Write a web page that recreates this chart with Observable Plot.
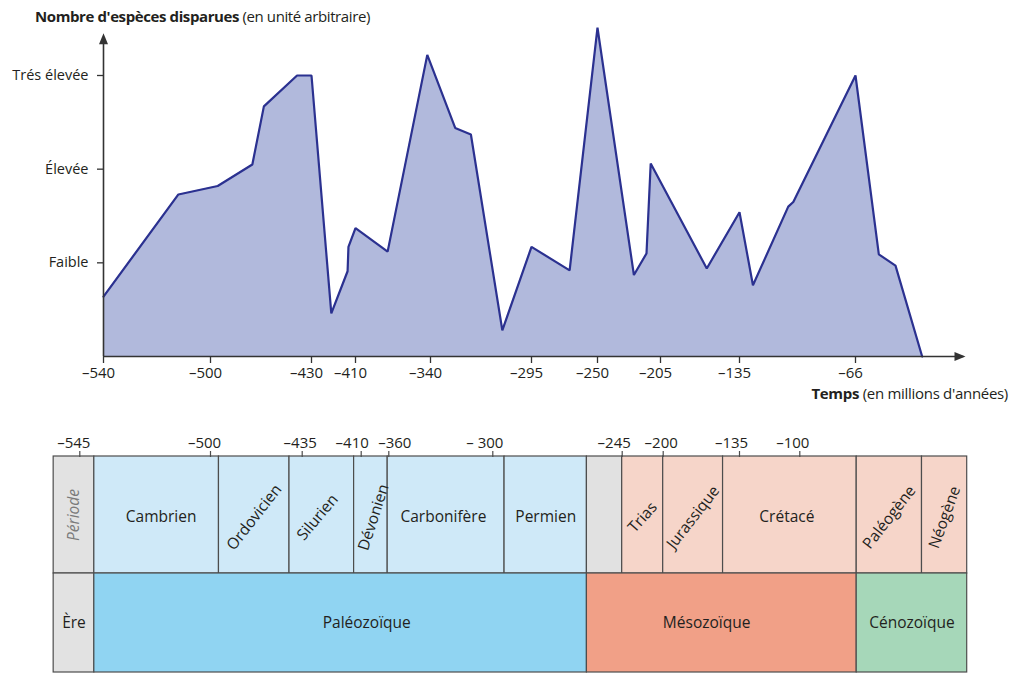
<!DOCTYPE html>
<html><head><meta charset="utf-8">
<script src="https://cdn.jsdelivr.net/npm/d3@7"></script>
<script src="https://cdn.jsdelivr.net/npm/@observablehq/plot@0.6"></script>
<style>
body{margin:0;background:#fff;font-family:"Open Sans",sans-serif;color:#231f20;width:1027px;overflow:hidden}
#title{height:30px;box-sizing:border-box;padding:6px 0 0 35px;font-size:15px;line-height:20px;white-space:nowrap;letter-spacing:-0.4px}
#title b{font-weight:700}
svg{display:block}
</style></head><body>
<div id="title"><b>Nombre d'espèces disparues</b> (en unité arbitraire)</div>
<div id="top"></div>
<div id="bottom"></div>
<script>
// ---------- Top chart data ----------
const ages = [-540,-512,-495,-471,-463,-440,-430,-421,-413.6,-413.2,-410,-380,-343,-329,-322,-308,-295,-269,-250,-224,-215,-212,-164,-135,-127,-106,-103,-66,-52,-42,-26];
const extinction = [0.64,1.73,1.82,2.05,2.67,3.0,3.0,0.46,0.91,1.17,1.37,1.12,3.22,2.44,2.37,0.28,1.17,0.92,3.51,0.87,1.10,2.06,0.94,1.54,0.76,1.60,1.65,3.0,1.09,0.97,0];
const timeTicks = [-540,-500,-430,-410,-340,-295,-250,-205,-135,-66];
const timeTickLabels = ["–540","–500","–430","–410","–340","–295","–250","–205","–135","–66"];
const levelTicks = [1,2,3];
const levelLabels = ["Faible","Élevée","Trés élevée"];

// ---------- Bottom timeline data ----------
const scaleTicks = [-545,-500,-435,-410,-360,-300,-245,-200,-135,-100];
const scaleTickLabels = ["–545","–500","–435","–410","–360","– 300","–245","–200","–135","–100"];
const periods = ["Cambrien","Ordovicien","Silurien","Dévonien","Carbonifère","Permien","","Trias","Jurassique","Crétacé","Paléogène","Néogène"];
const periodStart = [-540,-494,-444,-413,-362,-295,-260,-245,-200,-149,-66,-27];
const periodEnd   = [-494,-444,-413,-362,-295,-260,-245,-200,-149,-66,-27,0];
const periodEra   = ["P","P","P","P","P","P","gap","M","M","M","C","C"];
const eras = ["Paléozoïque","Mésozoïque","Cénozoïque"];
const eraStart = [-540,-260,-66];
const eraEnd = [-260,-66,0];
const rowLabels = ["Période","Ère"];
const labelColumn = [-554,-540];

// ---------- styles ----------
const FONT = "Open Sans, sans-serif";
const INK = "#231f20";
const periodFill = {P:"#cfe9f8", gap:"#e1e1e1", M:"#f6d5c9", C:"#f6d5c9"};
const eraFill = {"Paléozoïque":"#90d4f2","Mésozoïque":"#f1a087","Cénozoïque":"#a6d7b9"};
const labelRotate = {"Ordovicien":-52,"Silurien":-50,"Dévonien":-72,"Trias":-48,"Jurassique":-52,"Paléogène":-52,"Néogène":-70};
// horizontal nudges of the timeline tick labels (pixels), as in the reference layout
const bottomLabelShift = [-6,-6,-2,-9,6,-8,-8,-2,-8,-7];

const arrowHead = {draw(ctx){ ctx.moveTo(0,0); ctx.lineTo(-4.5,11); ctx.lineTo(4.5,11); ctx.closePath(); }};

const topData = ages.map((a,i)=>({age:a, level:extinction[i]}));

const topChart = Plot.plot({
  width:1027, height:380,
  marginLeft:103, marginRight:0, marginTop:0, marginBottom:54,
  style:{fontFamily:FONT, color:INK, background:"transparent", overflow:"visible"},
  x:{type:"linear", domain:[...timeTicks, 0], range:[103,210,311,355,430,531,597,660,739,855,965]},
  y:{type:"linear", domain:[0,3], range:[326,45]},
  marks:[
    Plot.areaY(topData,{x:"age", y:"level", fill:"#b1b9dc", curve:"linear"}),
    Plot.lineY(topData,{x:"age", y:"level", stroke:"#2b3190", strokeWidth:2.2, strokeLinejoin:"miter", curve:"linear"}),
    Plot.ruleY([0],{x1:timeTicks[0], x2:-1, stroke:"#333", strokeWidth:1.6}),
    Plot.ruleX([timeTicks[0]],{y1:0, y2:3.36, stroke:"#333", strokeWidth:1.6}),
    Plot.dot([0],{x:d=>d, y:0, symbol:arrowHead, rotate:90, fill:"#333", stroke:null}),
    Plot.dot([timeTicks[0]],{x:d=>d, y:3.45, symbol:arrowHead, fill:"#333", stroke:null}),
    Plot.axisX({ticks:timeTicks, tickFormat:d=>timeTickLabels[timeTicks.indexOf(d)], label:null, tickSize:7, tickPadding:4, fontSize:15, strokeWidth:1.3, stroke:"#333", fill:INK}),
    Plot.axisY({ticks:levelTicks, tickFormat:d=>levelLabels[levelTicks.indexOf(d)], label:null, tickSize:6, tickPadding:9, fontSize:14.5, strokeWidth:1.3, stroke:"#333", fill:INK})
  ]
});
const ts = d3.select(topChart);
// the minus sign hangs to the left: centre the digits on the tick
ts.selectAll('g[aria-label="x-axis tick label"] text').attr("dx", -5);
const xl = ts.append("text").attr("x",1008).attr("y",369).attr("text-anchor","end")
  .attr("font-family",FONT).attr("font-size",15).attr("fill",INK).attr("letter-spacing","-0.3");
xl.append("tspan").attr("font-weight",700).text("Temps");
xl.append("tspan").text(" (en millions d'années)");
document.getElementById("top").append(topChart);

// ---------- bottom ----------
const periodData = periods.map((p,i)=>({name:p, x1:periodStart[i], x2:periodEnd[i], fill:periodFill[periodEra[i]]}));
const eraData = eras.map((e,i)=>({name:e, x1:eraStart[i], x2:eraEnd[i]}));

const bottomChart = Plot.plot({
  width:1027, height:264,
  marginLeft:54, marginRight:60, marginTop:46, marginBottom:2,
  style:{fontFamily:FONT, color:INK, background:"transparent", overflow:"visible"},
  x:{type:"linear", domain:[...scaleTicks, 0], range:[79.3,210,301.7,360.7,388.3,492.3,621.7,662.7,739,799.3,966.7]},
  y:{type:"linear", axis:null, domain:[0,1,2], range:[46,163,262]},
  marks:[
    Plot.rect(rowLabels,{x1:labelColumn[0], x2:labelColumn[1], y1:(d,i)=>i, y2:(d,i)=>i+1, fill:"#e2e2e2", stroke:"#4d4d4d", strokeWidth:1.2}),
    Plot.rect(periodData,{x1:"x1", x2:"x2", y1:0, y2:1, fill:"fill", stroke:"#4d4d4d", strokeWidth:1.2}),
    Plot.rect(eraData,{x1:"x1", x2:"x2", y1:1, y2:2, fill:d=>eraFill[d.name], stroke:"#4d4d4d", strokeWidth:1.2}),
    Plot.text(rowLabels,{x:(labelColumn[0]+labelColumn[1])/2, y:(d,i)=>i+0.5, text:d=>d, rotate:(d,i)=>i===0?-90:0,
      fill:(d,i)=>i===0?"#7a7a7a":INK, fontSize:15.5}),
    Plot.text(periodData.filter(d=>d.name),{x:d=>(d.x1+d.x2)/2, y:0.52, text:"name", rotate:d=>labelRotate[d.name]||0, fill:INK, fontSize:15.5}),
    Plot.text(eraData,{x:d=>(d.x1+d.x2)/2, y:1.5, text:"name", fill:INK, fontSize:15.5}),
    Plot.axisX({anchor:"top", ticks:scaleTicks, tickFormat:d=>scaleTickLabels[scaleTicks.indexOf(d)], label:null, tickSize:6, tickPadding:3, fontSize:15, strokeWidth:1.2, stroke:"#4d4d4d", fill:INK})
  ]
});
const bs = d3.select(bottomChart);
bs.selectAll('g[aria-label="x-axis tick label"] text').each(function(){
  const i = scaleTickLabels.indexOf(this.textContent);
  if (i >= 0) d3.select(this).attr("dx", bottomLabelShift[i]);
});
bs.selectAll("text").filter(function(){return this.textContent==="Période";}).attr("font-style","italic");
document.getElementById("bottom").append(bottomChart);
</script>
</body></html>
